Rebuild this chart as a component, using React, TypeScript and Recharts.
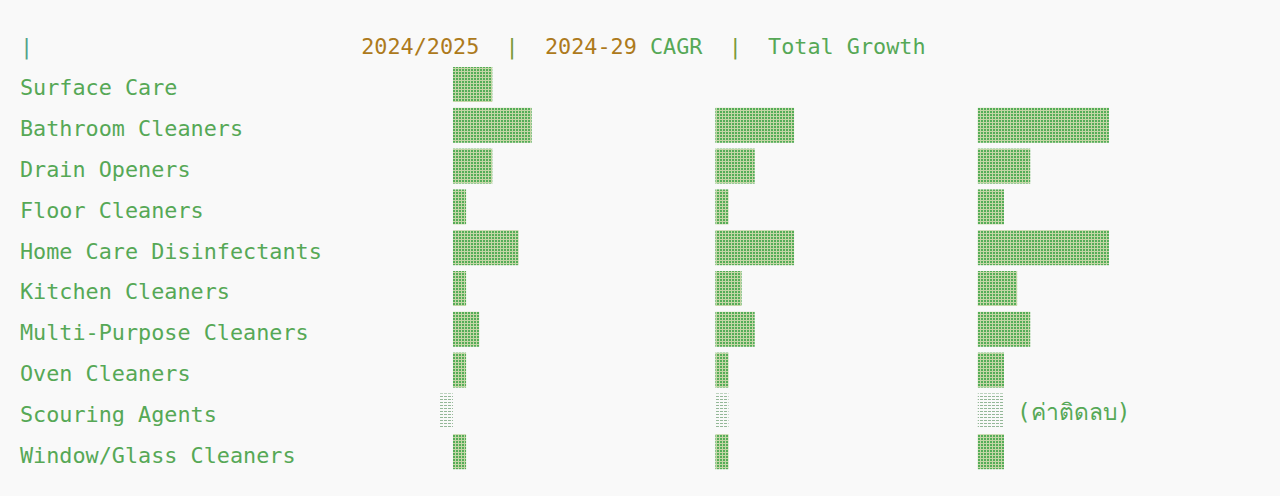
import React from "react";
import { Bar, BarChart, XAxis, YAxis, LabelList } from "recharts";

// values are in text-block units (one block = one monospace cell)
const CATEGORIES = [
  "Surface Care",
  "Bathroom Cleaners",
  "Drain Openers",
  "Floor Cleaners",
  "Home Care Disinfectants",
  "Kitchen Cleaners",
  "Multi-Purpose Cleaners",
  "Oven Cleaners",
  "Scouring Agents",
  "Window/Glass Cleaners",
];
const SHARE_2024_25 = [3, 6, 3, 1, 5, 1, 2, 1, -1, 1];
const CAGR_2024_29 = [0, 6, 3, 1, 6, 2, 3, 1, -1, 1];
const TOTAL_GROWTH = [0, 10, 4, 2, 10, 3, 4, 2, -2, 2];
const NOTES = ["", "", "", "", "", "", "", "", "(ค่าติดลบ)", ""];

const HEADER_YEAR = "2024/2025";
const HEADER_CAGR_YEARS = "2024-29";
const HEADER_CAGR = " CAGR";
const HEADER_TOTAL = "Total Growth";

const W = 1280;
const H = 496;
const CELL = 13.12;
const TEXT_X = 20;
const AXIS_W = 300;
const FONT = '"DejaVu Sans Mono", "Liberation Mono", monospace';
const FONT_SIZE = 21.8;
const GREEN = "#56a856";
const BROWN = "#ad7a1c";
const BG = "#f9f9f9";

const data = CATEGORIES.map((name, i) => ({
  name,
  share: SHARE_2024_25[i],
  cagr: CAGR_2024_29[i],
  total: TOTAL_GROWTH[i],
  note: NOTES[i],
}));

// domain so that 0 lands on the given text column and one unit = one cell
const domainFor = (col: number): [number, number] => {
  const start = TEXT_X + col * CELL;
  return [-(start - AXIS_W) / CELL, (W - start) / CELL];
};

const makeShape = (flipNegative: boolean) => (props: any) => {
  const { x, y, width, height, value } = props;
  const v = Array.isArray(value) ? value[1] - value[0] : value;
  if (!v) return <g />;
  const w = Math.abs(width);
  let left = Math.min(x, x + width);
  if (v < 0 && flipNegative) left = Math.max(x, x + width);
  return (
    <rect
      x={left}
      y={y}
      width={w}
      height={height}
      fill={v < 0 ? "url(#lightShade)" : "url(#fullBlock)"}
    />
  );
};

const CategoryTick = ({ y, payload }: any) => (
  <text x={TEXT_X} y={y + 11} fill={GREEN} fontFamily={FONT} fontSize={FONT_SIZE}>
    {payload.value}
  </text>
);

const NoteLabel = (props: any) => {
  const { x, width, y, height, index } = props;
  const note = NOTES[index];
  if (!note) return null;
  const base = Math.max(x, x + width);
  return (
    <text
      x={base + Math.abs(width) + CELL}
      y={y + height / 2 + 9}
      fill={GREEN}
      fontFamily={FONT}
      fontSize={FONT_SIZE + 1}
    >
      {note}
    </text>
  );
};

export default function App() {
  return (
    <div style={{ position: "fixed", left: 0, top: 0, width: W, height: H, background: BG }}>
      <svg width={W} height={60} style={{ position: "absolute", left: 0, top: 0 }}>
        <text x={TEXT_X} y={54} fontFamily={FONT} fontSize={FONT_SIZE} xmlSpace="preserve" style={{ whiteSpace: "pre" }}>
          <tspan fill="#55a28a">|</tspan>
          <tspan fill={GREEN}>{" ".repeat(25)}</tspan>
          <tspan fill={BROWN}>{HEADER_YEAR}</tspan>
          <tspan fill="#7a9a3a">{"  |  "}</tspan>
          <tspan fill={BROWN}>{HEADER_CAGR_YEARS}</tspan>
          <tspan fill={GREEN}>{HEADER_CAGR}</tspan>
          <tspan fill="#7a9a3a">{"  |  "}</tspan>
          <tspan fill={GREEN}>{HEADER_TOTAL}</tspan>
        </text>
      </svg>
      <BarChart
        width={W}
        height={H}
        data={data}
        layout="vertical"
        margin={{ top: 64, right: 0, bottom: 24, left: 0 }}
        barCategoryGap={0}
        style={{ position: "absolute", left: 0, top: 0 }}
      >
        <defs>
          <pattern id="fullBlock" width={3} height={3} patternUnits="userSpaceOnUse">
            <rect width={3} height={3} fill="#c4d6a6" />
            <rect width={2} height={2} fill="#55ad58" />
          </pattern>
          <pattern id="lightShade" width={4} height={3} patternUnits="userSpaceOnUse">
            <rect x={0} y={0} width={3} height={1} fill="#94b898" />
          </pattern>
        </defs>
        <YAxis
          type="category"
          dataKey="name"
          width={AXIS_W}
          axisLine={false}
          tickLine={false}
          tick={<CategoryTick />}
          interval={0}
        />
        <XAxis xAxisId="a" type="number" hide domain={domainFor(33)} allowDataOverflow />
        <XAxis xAxisId="b" type="number" hide domain={domainFor(53)} allowDataOverflow />
        <XAxis xAxisId="c" type="number" hide domain={domainFor(73)} allowDataOverflow />
        <Bar xAxisId="a" dataKey="share" stackId="s" barSize={35} shape={makeShape(false)} isAnimationActive={false} />
        <Bar xAxisId="b" dataKey="cagr" stackId="s" barSize={35} shape={makeShape(true)} isAnimationActive={false} />
        <Bar xAxisId="c" dataKey="total" stackId="s" barSize={35} shape={makeShape(true)} isAnimationActive={false}>
          <LabelList dataKey="note" content={<NoteLabel />} />
        </Bar>
      </BarChart>
    </div>
  );
}
